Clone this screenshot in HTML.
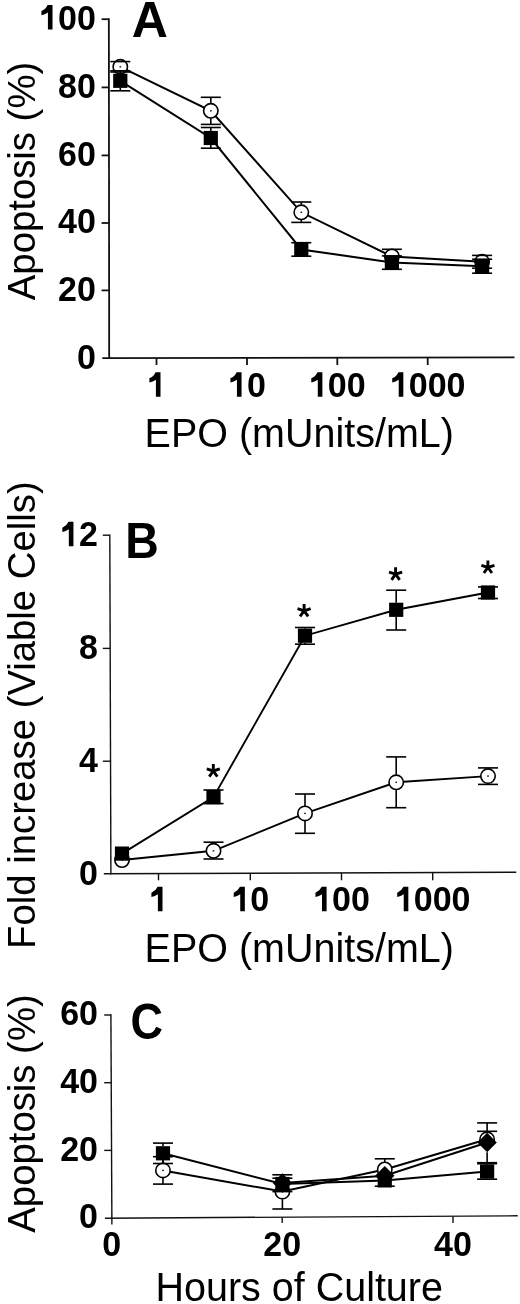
<!DOCTYPE html>
<html><head><meta charset="utf-8"><style>
html,body{margin:0;padding:0;background:#fff;overflow:hidden;}
svg{display:block;filter:grayscale(1);}
text{font-family:"Liberation Sans",sans-serif;fill:#000;}
</style></head><body>
<svg width="520" height="1304" viewBox="0 0 520 1304">
<rect width="520" height="1304" fill="#fff"/>
<line x1="108.85" y1="18.30" x2="109.20" y2="359.10" stroke="#111" stroke-width="1.8" stroke-linecap="butt"/>
<line x1="102.30" y1="358.20" x2="514.50" y2="357.40" stroke="#111" stroke-width="1.8" stroke-linecap="butt"/>
<line x1="101.60" y1="290.40" x2="109.13" y2="290.40" stroke="#111" stroke-width="1.8" stroke-linecap="butt"/>
<line x1="101.60" y1="223.00" x2="109.06" y2="223.00" stroke="#111" stroke-width="1.8" stroke-linecap="butt"/>
<line x1="101.60" y1="155.40" x2="108.99" y2="155.40" stroke="#111" stroke-width="1.8" stroke-linecap="butt"/>
<line x1="101.60" y1="87.40" x2="108.92" y2="87.40" stroke="#111" stroke-width="1.8" stroke-linecap="butt"/>
<line x1="101.60" y1="19.20" x2="108.85" y2="19.20" stroke="#111" stroke-width="1.8" stroke-linecap="butt"/>
<line x1="156.50" y1="358.09" x2="156.50" y2="365.00" stroke="#111" stroke-width="1.8" stroke-linecap="butt"/>
<line x1="247.00" y1="357.92" x2="247.00" y2="365.00" stroke="#111" stroke-width="1.8" stroke-linecap="butt"/>
<line x1="337.30" y1="357.74" x2="337.30" y2="365.00" stroke="#111" stroke-width="1.8" stroke-linecap="butt"/>
<line x1="427.70" y1="357.57" x2="427.70" y2="365.00" stroke="#111" stroke-width="1.8" stroke-linecap="butt"/>
<text transform="translate(86.34,368.50) scale(1,1.04)" font-size="34" font-weight="bold" text-anchor="middle">0</text>
<text transform="translate(67.43,300.70) scale(1,1.04)" font-size="34" font-weight="bold" text-anchor="middle">2</text>
<text transform="translate(86.34,300.70) scale(1,1.04)" font-size="34" font-weight="bold" text-anchor="middle">0</text>
<text transform="translate(67.43,233.30) scale(1,1.04)" font-size="34" font-weight="bold" text-anchor="middle">4</text>
<text transform="translate(86.34,233.30) scale(1,1.04)" font-size="34" font-weight="bold" text-anchor="middle">0</text>
<text transform="translate(67.43,165.70) scale(1,1.04)" font-size="34" font-weight="bold" text-anchor="middle">6</text>
<text transform="translate(86.34,165.70) scale(1,1.04)" font-size="34" font-weight="bold" text-anchor="middle">0</text>
<text transform="translate(67.43,97.70) scale(1,1.04)" font-size="34" font-weight="bold" text-anchor="middle">8</text>
<text transform="translate(86.34,97.70) scale(1,1.04)" font-size="34" font-weight="bold" text-anchor="middle">0</text>
<path d="M52.52,4.97 L52.52,29.50 L47.92,29.50 L47.92,12.43 Q44.92,14.39 41.42,15.27 L41.42,11.05 Q45.72,9.29 47.62,4.97 Z" fill="#000"/>
<text transform="translate(67.43,29.50) scale(1,1.04)" font-size="34" font-weight="bold" text-anchor="middle">0</text>
<text transform="translate(86.34,29.50) scale(1,1.04)" font-size="34" font-weight="bold" text-anchor="middle">0</text>
<path d="M160.50,372.27 L160.50,396.80 L155.90,396.80 L155.90,379.73 Q152.90,381.69 149.40,382.57 L149.40,378.35 Q153.70,376.59 155.60,372.27 Z" fill="#000"/>
<path d="M241.54,372.27 L241.54,396.80 L236.94,396.80 L236.94,379.73 Q233.94,381.69 230.44,382.57 L230.44,378.35 Q234.74,376.59 236.64,372.27 Z" fill="#000"/>
<text transform="translate(256.46,396.80) scale(1,1.04)" font-size="34" font-weight="bold" text-anchor="middle">0</text>
<path d="M322.39,372.27 L322.39,396.80 L317.79,396.80 L317.79,379.73 Q314.79,381.69 311.29,382.57 L311.29,378.35 Q315.59,376.59 317.49,372.27 Z" fill="#000"/>
<text transform="translate(337.30,396.80) scale(1,1.04)" font-size="34" font-weight="bold" text-anchor="middle">0</text>
<text transform="translate(356.21,396.80) scale(1,1.04)" font-size="34" font-weight="bold" text-anchor="middle">0</text>
<path d="M403.33,372.27 L403.33,396.80 L398.73,396.80 L398.73,379.73 Q395.73,381.69 392.23,382.57 L392.23,378.35 Q396.53,376.59 398.43,372.27 Z" fill="#000"/>
<text transform="translate(418.24,396.80) scale(1,1.04)" font-size="34" font-weight="bold" text-anchor="middle">0</text>
<text transform="translate(437.16,396.80) scale(1,1.04)" font-size="34" font-weight="bold" text-anchor="middle">0</text>
<text transform="translate(456.07,396.80) scale(1,1.04)" font-size="34" font-weight="bold" text-anchor="middle">0</text>
<text transform="translate(131.80,37.00)" font-size="50" font-weight="bold" text-anchor="start">A</text>
<text transform="translate(34.80,300.20) rotate(-90)" font-size="38.3" font-weight="normal" text-anchor="start">Apoptosis (%)</text>
<text transform="translate(144.60,446.60) scale(1.0,1.045)" font-size="39.5" font-weight="normal" text-anchor="start">EPO (mUnits/mL)</text>
<polyline points="120.30,66.80 210.80,110.80 301.30,212.30 391.90,256.50 482.10,261.80" fill="none" stroke="#000" stroke-width="2.0" stroke-linejoin="miter"/>
<polyline points="120.30,80.80 210.80,138.00 301.30,249.50 391.90,262.40 482.10,266.20" fill="none" stroke="#000" stroke-width="2.0" stroke-linejoin="miter"/>
<circle cx="120.30" cy="66.80" r="7.2" fill="#fff" stroke="#000" stroke-width="1.6"/>
<rect x="119.50" y="66.10" width="1.6" height="1.4" fill="#111"/>
<line x1="110.30" y1="61.60" x2="130.30" y2="61.60" stroke="#000" stroke-width="1.6" stroke-linecap="butt"/>
<line x1="110.30" y1="72.00" x2="130.30" y2="72.00" stroke="#000" stroke-width="1.6" stroke-linecap="butt"/>
<circle cx="210.80" cy="110.80" r="7.2" fill="#fff" stroke="#000" stroke-width="1.6"/>
<rect x="210.00" y="110.10" width="1.6" height="1.4" fill="#111"/>
<line x1="210.80" y1="97.30" x2="210.80" y2="103.30" stroke="#000" stroke-width="1.6" stroke-linecap="butt"/>
<line x1="200.80" y1="97.30" x2="220.80" y2="97.30" stroke="#000" stroke-width="1.6" stroke-linecap="butt"/>
<line x1="210.80" y1="118.30" x2="210.80" y2="124.40" stroke="#000" stroke-width="1.6" stroke-linecap="butt"/>
<line x1="200.80" y1="124.40" x2="220.80" y2="124.40" stroke="#000" stroke-width="1.6" stroke-linecap="butt"/>
<circle cx="301.30" cy="212.30" r="7.2" fill="#fff" stroke="#000" stroke-width="1.6"/>
<rect x="300.50" y="211.60" width="1.6" height="1.4" fill="#111"/>
<line x1="301.30" y1="202.00" x2="301.30" y2="204.80" stroke="#000" stroke-width="1.6" stroke-linecap="butt"/>
<line x1="291.30" y1="202.00" x2="311.30" y2="202.00" stroke="#000" stroke-width="1.6" stroke-linecap="butt"/>
<line x1="301.30" y1="219.80" x2="301.30" y2="222.40" stroke="#000" stroke-width="1.6" stroke-linecap="butt"/>
<line x1="291.30" y1="222.40" x2="311.30" y2="222.40" stroke="#000" stroke-width="1.6" stroke-linecap="butt"/>
<circle cx="391.90" cy="256.50" r="7.2" fill="#fff" stroke="#000" stroke-width="1.6"/>
<rect x="391.10" y="255.80" width="1.6" height="1.4" fill="#111"/>
<line x1="381.90" y1="249.30" x2="401.90" y2="249.30" stroke="#000" stroke-width="1.6" stroke-linecap="butt"/>
<circle cx="482.10" cy="261.80" r="7.2" fill="#fff" stroke="#000" stroke-width="1.6"/>
<rect x="481.30" y="261.10" width="1.6" height="1.4" fill="#111"/>
<line x1="472.10" y1="255.40" x2="492.10" y2="255.40" stroke="#000" stroke-width="1.6" stroke-linecap="butt"/>
<line x1="472.10" y1="268.20" x2="492.10" y2="268.20" stroke="#000" stroke-width="1.6" stroke-linecap="butt"/>
<rect x="113.20" y="73.70" width="14.2" height="14.2" fill="#000"/>
<line x1="120.30" y1="70.80" x2="120.30" y2="73.80" stroke="#000" stroke-width="1.6" stroke-linecap="butt"/>
<line x1="110.30" y1="70.80" x2="130.30" y2="70.80" stroke="#000" stroke-width="1.6" stroke-linecap="butt"/>
<line x1="120.30" y1="87.80" x2="120.30" y2="90.80" stroke="#000" stroke-width="1.6" stroke-linecap="butt"/>
<line x1="110.30" y1="90.80" x2="130.30" y2="90.80" stroke="#000" stroke-width="1.6" stroke-linecap="butt"/>
<rect x="203.70" y="130.90" width="14.2" height="14.2" fill="#000"/>
<line x1="210.80" y1="127.50" x2="210.80" y2="131.00" stroke="#000" stroke-width="1.6" stroke-linecap="butt"/>
<line x1="200.80" y1="127.50" x2="220.80" y2="127.50" stroke="#000" stroke-width="1.6" stroke-linecap="butt"/>
<line x1="210.80" y1="145.00" x2="210.80" y2="148.20" stroke="#000" stroke-width="1.6" stroke-linecap="butt"/>
<line x1="200.80" y1="148.20" x2="220.80" y2="148.20" stroke="#000" stroke-width="1.6" stroke-linecap="butt"/>
<rect x="294.20" y="242.40" width="14.2" height="14.2" fill="#000"/>
<line x1="291.30" y1="242.70" x2="311.30" y2="242.70" stroke="#000" stroke-width="1.6" stroke-linecap="butt"/>
<line x1="291.30" y1="256.20" x2="311.30" y2="256.20" stroke="#000" stroke-width="1.6" stroke-linecap="butt"/>
<rect x="384.80" y="255.30" width="14.2" height="14.2" fill="#000"/>
<line x1="381.90" y1="255.90" x2="401.90" y2="255.90" stroke="#000" stroke-width="1.6" stroke-linecap="butt"/>
<line x1="381.90" y1="269.30" x2="401.90" y2="269.30" stroke="#000" stroke-width="1.6" stroke-linecap="butt"/>
<rect x="475.00" y="259.10" width="14.2" height="14.2" fill="#000"/>
<line x1="472.10" y1="259.20" x2="492.10" y2="259.20" stroke="#000" stroke-width="1.6" stroke-linecap="butt"/>
<line x1="472.10" y1="273.20" x2="492.10" y2="273.20" stroke="#000" stroke-width="1.6" stroke-linecap="butt"/>
<line x1="109.80" y1="534.50" x2="110.90" y2="874.50" stroke="#111" stroke-width="1.4" stroke-linecap="butt"/>
<line x1="103.80" y1="873.80" x2="516.30" y2="872.20" stroke="#111" stroke-width="1.4" stroke-linecap="butt"/>
<line x1="102.80" y1="761.20" x2="110.53" y2="761.20" stroke="#111" stroke-width="1.4" stroke-linecap="butt"/>
<line x1="102.80" y1="648.40" x2="110.17" y2="648.40" stroke="#111" stroke-width="1.4" stroke-linecap="butt"/>
<line x1="102.80" y1="535.20" x2="109.80" y2="535.20" stroke="#111" stroke-width="1.4" stroke-linecap="butt"/>
<line x1="158.50" y1="873.59" x2="158.50" y2="880.30" stroke="#111" stroke-width="1.4" stroke-linecap="butt"/>
<line x1="250.30" y1="873.23" x2="250.30" y2="880.30" stroke="#111" stroke-width="1.4" stroke-linecap="butt"/>
<line x1="341.50" y1="872.88" x2="341.50" y2="880.30" stroke="#111" stroke-width="1.4" stroke-linecap="butt"/>
<line x1="432.70" y1="872.52" x2="432.70" y2="880.30" stroke="#111" stroke-width="1.4" stroke-linecap="butt"/>
<text transform="translate(88.34,884.80) scale(1,1.04)" font-size="34" font-weight="bold" text-anchor="middle">0</text>
<text transform="translate(88.34,772.20) scale(1,1.04)" font-size="34" font-weight="bold" text-anchor="middle">4</text>
<text transform="translate(88.34,659.40) scale(1,1.04)" font-size="34" font-weight="bold" text-anchor="middle">8</text>
<path d="M73.43,521.67 L73.43,546.20 L68.83,546.20 L68.83,529.13 Q65.83,531.09 62.33,531.97 L62.33,527.75 Q66.63,525.99 68.53,521.67 Z" fill="#000"/>
<text transform="translate(88.34,546.20) scale(1,1.04)" font-size="34" font-weight="bold" text-anchor="middle">2</text>
<path d="M162.50,886.67 L162.50,911.20 L157.90,911.20 L157.90,894.13 Q154.90,896.09 151.40,896.97 L151.40,892.75 Q155.70,890.99 157.60,886.67 Z" fill="#000"/>
<path d="M244.84,886.67 L244.84,911.20 L240.24,911.20 L240.24,894.13 Q237.24,896.09 233.74,896.97 L233.74,892.75 Q238.04,890.99 239.94,886.67 Z" fill="#000"/>
<text transform="translate(259.76,911.20) scale(1,1.04)" font-size="34" font-weight="bold" text-anchor="middle">0</text>
<path d="M326.59,886.67 L326.59,911.20 L321.99,911.20 L321.99,894.13 Q318.99,896.09 315.49,896.97 L315.49,892.75 Q319.79,890.99 321.69,886.67 Z" fill="#000"/>
<text transform="translate(341.50,911.20) scale(1,1.04)" font-size="34" font-weight="bold" text-anchor="middle">0</text>
<text transform="translate(360.41,911.20) scale(1,1.04)" font-size="34" font-weight="bold" text-anchor="middle">0</text>
<path d="M408.33,886.67 L408.33,911.20 L403.73,911.20 L403.73,894.13 Q400.73,896.09 397.23,896.97 L397.23,892.75 Q401.53,890.99 403.43,886.67 Z" fill="#000"/>
<text transform="translate(423.24,911.20) scale(1,1.04)" font-size="34" font-weight="bold" text-anchor="middle">0</text>
<text transform="translate(442.16,911.20) scale(1,1.04)" font-size="34" font-weight="bold" text-anchor="middle">0</text>
<text transform="translate(461.07,911.20) scale(1,1.04)" font-size="34" font-weight="bold" text-anchor="middle">0</text>
<text transform="translate(125.20,558.30) scale(0.93,1.0)" font-size="50" font-weight="bold" text-anchor="start">B</text>
<text transform="translate(34.80,948.90) rotate(-90)" font-size="38.3" font-weight="normal" text-anchor="start">Fold increase (Viable Cells)</text>
<text transform="translate(144.60,961.80) scale(1.0,1.045)" font-size="39.5" font-weight="normal" text-anchor="start">EPO (mUnits/mL)</text>
<polyline points="122.00,860.00 213.50,850.80 305.00,813.40 396.20,782.30 488.00,776.10" fill="none" stroke="#000" stroke-width="1.9" stroke-linejoin="miter"/>
<polyline points="122.00,853.60 213.50,797.10 305.00,635.70 396.20,609.80 488.00,592.50" fill="none" stroke="#000" stroke-width="1.9" stroke-linejoin="miter"/>
<circle cx="122.00" cy="860.00" r="7.2" fill="#fff" stroke="#000" stroke-width="1.6"/>
<rect x="121.20" y="859.30" width="1.6" height="1.4" fill="#111"/>
<circle cx="213.50" cy="850.80" r="7.2" fill="#fff" stroke="#000" stroke-width="1.6"/>
<rect x="212.70" y="850.10" width="1.6" height="1.4" fill="#111"/>
<line x1="213.50" y1="842.20" x2="213.50" y2="843.30" stroke="#000" stroke-width="1.6" stroke-linecap="butt"/>
<line x1="203.50" y1="842.20" x2="223.50" y2="842.20" stroke="#000" stroke-width="1.6" stroke-linecap="butt"/>
<line x1="213.50" y1="858.30" x2="213.50" y2="859.00" stroke="#000" stroke-width="1.6" stroke-linecap="butt"/>
<line x1="203.50" y1="859.00" x2="223.50" y2="859.00" stroke="#000" stroke-width="1.6" stroke-linecap="butt"/>
<circle cx="305.00" cy="813.40" r="7.2" fill="#fff" stroke="#000" stroke-width="1.6"/>
<rect x="304.20" y="812.70" width="1.6" height="1.4" fill="#111"/>
<line x1="305.00" y1="794.00" x2="305.00" y2="805.90" stroke="#000" stroke-width="1.6" stroke-linecap="butt"/>
<line x1="295.00" y1="794.00" x2="315.00" y2="794.00" stroke="#000" stroke-width="1.6" stroke-linecap="butt"/>
<line x1="305.00" y1="820.90" x2="305.00" y2="833.30" stroke="#000" stroke-width="1.6" stroke-linecap="butt"/>
<line x1="295.00" y1="833.30" x2="315.00" y2="833.30" stroke="#000" stroke-width="1.6" stroke-linecap="butt"/>
<circle cx="396.20" cy="782.30" r="7.2" fill="#fff" stroke="#000" stroke-width="1.6"/>
<rect x="395.40" y="781.60" width="1.6" height="1.4" fill="#111"/>
<line x1="396.20" y1="756.90" x2="396.20" y2="774.80" stroke="#000" stroke-width="1.6" stroke-linecap="butt"/>
<line x1="386.20" y1="756.90" x2="406.20" y2="756.90" stroke="#000" stroke-width="1.6" stroke-linecap="butt"/>
<line x1="396.20" y1="789.80" x2="396.20" y2="807.70" stroke="#000" stroke-width="1.6" stroke-linecap="butt"/>
<line x1="386.20" y1="807.70" x2="406.20" y2="807.70" stroke="#000" stroke-width="1.6" stroke-linecap="butt"/>
<circle cx="488.00" cy="776.10" r="7.2" fill="#fff" stroke="#000" stroke-width="1.6"/>
<rect x="487.20" y="775.40" width="1.6" height="1.4" fill="#111"/>
<line x1="488.00" y1="767.90" x2="488.00" y2="768.60" stroke="#000" stroke-width="1.6" stroke-linecap="butt"/>
<line x1="478.00" y1="767.90" x2="498.00" y2="767.90" stroke="#000" stroke-width="1.6" stroke-linecap="butt"/>
<line x1="488.00" y1="783.60" x2="488.00" y2="784.40" stroke="#000" stroke-width="1.6" stroke-linecap="butt"/>
<line x1="478.00" y1="784.40" x2="498.00" y2="784.40" stroke="#000" stroke-width="1.6" stroke-linecap="butt"/>
<rect x="114.90" y="846.50" width="14.2" height="14.2" fill="#000"/>
<rect x="206.40" y="790.00" width="14.2" height="14.2" fill="#000"/>
<line x1="213.50" y1="790.00" x2="213.50" y2="790.10" stroke="#000" stroke-width="1.6" stroke-linecap="butt"/>
<line x1="203.50" y1="790.00" x2="223.50" y2="790.00" stroke="#000" stroke-width="1.6" stroke-linecap="butt"/>
<line x1="203.50" y1="803.60" x2="223.50" y2="803.60" stroke="#000" stroke-width="1.6" stroke-linecap="butt"/>
<rect x="297.90" y="628.60" width="14.2" height="14.2" fill="#000"/>
<line x1="305.00" y1="627.50" x2="305.00" y2="628.70" stroke="#000" stroke-width="1.6" stroke-linecap="butt"/>
<line x1="295.00" y1="627.50" x2="315.00" y2="627.50" stroke="#000" stroke-width="1.6" stroke-linecap="butt"/>
<line x1="305.00" y1="642.70" x2="305.00" y2="644.20" stroke="#000" stroke-width="1.6" stroke-linecap="butt"/>
<line x1="295.00" y1="644.20" x2="315.00" y2="644.20" stroke="#000" stroke-width="1.6" stroke-linecap="butt"/>
<rect x="389.10" y="602.70" width="14.2" height="14.2" fill="#000"/>
<line x1="396.20" y1="590.20" x2="396.20" y2="602.80" stroke="#000" stroke-width="1.6" stroke-linecap="butt"/>
<line x1="386.20" y1="590.20" x2="406.20" y2="590.20" stroke="#000" stroke-width="1.6" stroke-linecap="butt"/>
<line x1="396.20" y1="616.80" x2="396.20" y2="630.00" stroke="#000" stroke-width="1.6" stroke-linecap="butt"/>
<line x1="386.20" y1="630.00" x2="406.20" y2="630.00" stroke="#000" stroke-width="1.6" stroke-linecap="butt"/>
<rect x="480.90" y="585.40" width="14.2" height="14.2" fill="#000"/>
<line x1="478.00" y1="586.90" x2="498.00" y2="586.90" stroke="#000" stroke-width="1.6" stroke-linecap="butt"/>
<line x1="478.00" y1="598.50" x2="498.00" y2="598.50" stroke="#000" stroke-width="1.6" stroke-linecap="butt"/>
<path d="M213.30,771.00 L213.30,764.10 M213.30,771.00 L219.86,768.87 M213.30,771.00 L217.36,776.58 M213.30,771.00 L209.24,776.58 M213.30,771.00 L206.74,768.87" stroke="#000" stroke-width="2.9" stroke-linecap="butt" fill="none"/>
<path d="M304.10,610.80 L304.10,603.90 M304.10,610.80 L310.66,608.67 M304.10,610.80 L308.16,616.38 M304.10,610.80 L300.04,616.38 M304.10,610.80 L297.54,608.67" stroke="#000" stroke-width="2.9" stroke-linecap="butt" fill="none"/>
<path d="M395.60,574.20 L395.60,567.30 M395.60,574.20 L402.16,572.07 M395.60,574.20 L399.66,579.78 M395.60,574.20 L391.54,579.78 M395.60,574.20 L389.04,572.07" stroke="#000" stroke-width="2.9" stroke-linecap="butt" fill="none"/>
<path d="M487.90,567.40 L487.90,560.50 M487.90,567.40 L494.46,565.27 M487.90,567.40 L491.96,572.98 M487.90,567.40 L483.84,572.98 M487.90,567.40 L481.34,565.27" stroke="#000" stroke-width="2.9" stroke-linecap="butt" fill="none"/>
<line x1="110.90" y1="1014.30" x2="111.90" y2="1224.60" stroke="#111" stroke-width="1.4" stroke-linecap="butt"/>
<line x1="104.90" y1="1218.20" x2="517.70" y2="1215.80" stroke="#111" stroke-width="1.4" stroke-linecap="butt"/>
<line x1="104.20" y1="1150.40" x2="111.50" y2="1150.40" stroke="#111" stroke-width="1.4" stroke-linecap="butt"/>
<line x1="104.20" y1="1082.70" x2="111.20" y2="1082.70" stroke="#111" stroke-width="1.4" stroke-linecap="butt"/>
<line x1="104.20" y1="1015.00" x2="110.90" y2="1015.00" stroke="#111" stroke-width="1.4" stroke-linecap="butt"/>
<line x1="282.20" y1="1217.17" x2="282.20" y2="1223.00" stroke="#111" stroke-width="1.4" stroke-linecap="butt"/>
<line x1="453.00" y1="1216.18" x2="453.00" y2="1223.00" stroke="#111" stroke-width="1.4" stroke-linecap="butt"/>
<text transform="translate(88.54,1228.40) scale(1,1.04)" font-size="34" font-weight="bold" text-anchor="middle">0</text>
<text transform="translate(69.63,1160.60) scale(1,1.04)" font-size="34" font-weight="bold" text-anchor="middle">2</text>
<text transform="translate(88.54,1160.60) scale(1,1.04)" font-size="34" font-weight="bold" text-anchor="middle">0</text>
<text transform="translate(69.63,1092.90) scale(1,1.04)" font-size="34" font-weight="bold" text-anchor="middle">4</text>
<text transform="translate(88.54,1092.90) scale(1,1.04)" font-size="34" font-weight="bold" text-anchor="middle">0</text>
<text transform="translate(69.63,1025.20) scale(1,1.04)" font-size="34" font-weight="bold" text-anchor="middle">6</text>
<text transform="translate(88.54,1025.20) scale(1,1.04)" font-size="34" font-weight="bold" text-anchor="middle">0</text>
<text transform="translate(111.80,1255.60) scale(1,1.04)" font-size="34" font-weight="bold" text-anchor="middle">0</text>
<text transform="translate(272.74,1255.60) scale(1,1.04)" font-size="34" font-weight="bold" text-anchor="middle">2</text>
<text transform="translate(291.66,1255.60) scale(1,1.04)" font-size="34" font-weight="bold" text-anchor="middle">0</text>
<text transform="translate(443.54,1255.60) scale(1,1.04)" font-size="34" font-weight="bold" text-anchor="middle">4</text>
<text transform="translate(462.46,1255.60) scale(1,1.04)" font-size="34" font-weight="bold" text-anchor="middle">0</text>
<text transform="translate(130.50,1038.60) scale(0.9,1.0)" font-size="50" font-weight="bold" text-anchor="start">C</text>
<text transform="translate(34.80,1232.70) rotate(-90)" font-size="38.3" font-weight="normal" text-anchor="start">Apoptosis (%)</text>
<text transform="translate(155.50,1301.20) scale(1.0,1.045)" font-size="39.5" font-weight="normal" text-anchor="start">Hours of Culture</text>
<polyline points="162.98,1170.40 282.40,1191.60 384.76,1169.50 487.12,1139.30" fill="none" stroke="#000" stroke-width="2.0" stroke-linejoin="miter"/>
<polyline points="162.98,1153.30 282.40,1184.00 384.76,1180.40 487.12,1171.50" fill="none" stroke="#000" stroke-width="2.0" stroke-linejoin="miter"/>
<polyline points="282.40,1183.00 384.76,1175.70 487.12,1142.50" fill="none" stroke="#000" stroke-width="2.0" stroke-linejoin="miter"/>
<circle cx="162.98" cy="1170.40" r="7.2" fill="#fff" stroke="#000" stroke-width="1.6"/>
<rect x="162.18" y="1169.70" width="1.6" height="1.4" fill="#111"/>
<line x1="162.98" y1="1156.70" x2="162.98" y2="1162.90" stroke="#000" stroke-width="1.6" stroke-linecap="butt"/>
<line x1="152.98" y1="1156.70" x2="172.98" y2="1156.70" stroke="#000" stroke-width="1.6" stroke-linecap="butt"/>
<line x1="162.98" y1="1177.90" x2="162.98" y2="1184.10" stroke="#000" stroke-width="1.6" stroke-linecap="butt"/>
<line x1="152.98" y1="1184.10" x2="172.98" y2="1184.10" stroke="#000" stroke-width="1.6" stroke-linecap="butt"/>
<circle cx="282.40" cy="1191.60" r="7.2" fill="#fff" stroke="#000" stroke-width="1.6"/>
<rect x="281.60" y="1190.90" width="1.6" height="1.4" fill="#111"/>
<line x1="282.40" y1="1174.80" x2="282.40" y2="1184.10" stroke="#000" stroke-width="1.6" stroke-linecap="butt"/>
<line x1="272.40" y1="1174.80" x2="292.40" y2="1174.80" stroke="#000" stroke-width="1.6" stroke-linecap="butt"/>
<line x1="282.40" y1="1199.10" x2="282.40" y2="1209.00" stroke="#000" stroke-width="1.6" stroke-linecap="butt"/>
<line x1="272.40" y1="1209.00" x2="292.40" y2="1209.00" stroke="#000" stroke-width="1.6" stroke-linecap="butt"/>
<circle cx="384.76" cy="1169.50" r="7.2" fill="#fff" stroke="#000" stroke-width="1.6"/>
<rect x="383.96" y="1168.80" width="1.6" height="1.4" fill="#111"/>
<line x1="384.76" y1="1158.80" x2="384.76" y2="1162.00" stroke="#000" stroke-width="1.6" stroke-linecap="butt"/>
<line x1="374.76" y1="1158.80" x2="394.76" y2="1158.80" stroke="#000" stroke-width="1.6" stroke-linecap="butt"/>
<circle cx="487.12" cy="1139.30" r="7.2" fill="#fff" stroke="#000" stroke-width="1.6"/>
<rect x="486.32" y="1138.60" width="1.6" height="1.4" fill="#111"/>
<line x1="487.12" y1="1131.30" x2="487.12" y2="1131.80" stroke="#000" stroke-width="1.6" stroke-linecap="butt"/>
<line x1="477.12" y1="1131.30" x2="497.12" y2="1131.30" stroke="#000" stroke-width="1.6" stroke-linecap="butt"/>
<rect x="155.88" y="1146.20" width="14.2" height="14.2" fill="#000"/>
<line x1="162.98" y1="1143.10" x2="162.98" y2="1146.30" stroke="#000" stroke-width="1.6" stroke-linecap="butt"/>
<line x1="152.98" y1="1143.10" x2="172.98" y2="1143.10" stroke="#000" stroke-width="1.6" stroke-linecap="butt"/>
<line x1="162.98" y1="1160.30" x2="162.98" y2="1163.50" stroke="#000" stroke-width="1.6" stroke-linecap="butt"/>
<line x1="152.98" y1="1163.50" x2="172.98" y2="1163.50" stroke="#000" stroke-width="1.6" stroke-linecap="butt"/>
<rect x="275.30" y="1176.90" width="14.2" height="14.2" fill="#000"/>
<line x1="272.40" y1="1178.20" x2="292.40" y2="1178.20" stroke="#000" stroke-width="1.6" stroke-linecap="butt"/>
<line x1="282.40" y1="1191.00" x2="282.40" y2="1191.60" stroke="#000" stroke-width="1.6" stroke-linecap="butt"/>
<line x1="272.40" y1="1191.60" x2="292.40" y2="1191.60" stroke="#000" stroke-width="1.6" stroke-linecap="butt"/>
<rect x="377.66" y="1173.30" width="14.2" height="14.2" fill="#000"/>
<line x1="374.76" y1="1186.20" x2="394.76" y2="1186.20" stroke="#000" stroke-width="1.6" stroke-linecap="butt"/>
<rect x="480.02" y="1164.40" width="14.2" height="14.2" fill="#000"/>
<line x1="487.12" y1="1163.70" x2="487.12" y2="1164.50" stroke="#000" stroke-width="1.6" stroke-linecap="butt"/>
<line x1="477.12" y1="1163.70" x2="497.12" y2="1163.70" stroke="#000" stroke-width="1.6" stroke-linecap="butt"/>
<line x1="487.12" y1="1178.50" x2="487.12" y2="1179.20" stroke="#000" stroke-width="1.6" stroke-linecap="butt"/>
<line x1="477.12" y1="1179.20" x2="497.12" y2="1179.20" stroke="#000" stroke-width="1.6" stroke-linecap="butt"/>
<polygon points="282.40,1173.30 292.10,1183.00 282.40,1192.70 272.70,1183.00" fill="#000"/>
<polygon points="384.76,1166.00 394.46,1175.70 384.76,1185.40 375.06,1175.70" fill="#000"/>
<polygon points="487.12,1132.80 496.82,1142.50 487.12,1152.20 477.42,1142.50" fill="#000"/>
<line x1="487.12" y1="1122.90" x2="487.12" y2="1132.80" stroke="#000" stroke-width="1.6" stroke-linecap="butt"/>
<line x1="477.12" y1="1122.90" x2="497.12" y2="1122.90" stroke="#000" stroke-width="1.6" stroke-linecap="butt"/>
<line x1="487.12" y1="1152.20" x2="487.12" y2="1162.70" stroke="#000" stroke-width="1.6" stroke-linecap="butt"/>
<line x1="477.12" y1="1162.70" x2="497.12" y2="1162.70" stroke="#000" stroke-width="1.6" stroke-linecap="butt"/>
</svg>
</body></html>
